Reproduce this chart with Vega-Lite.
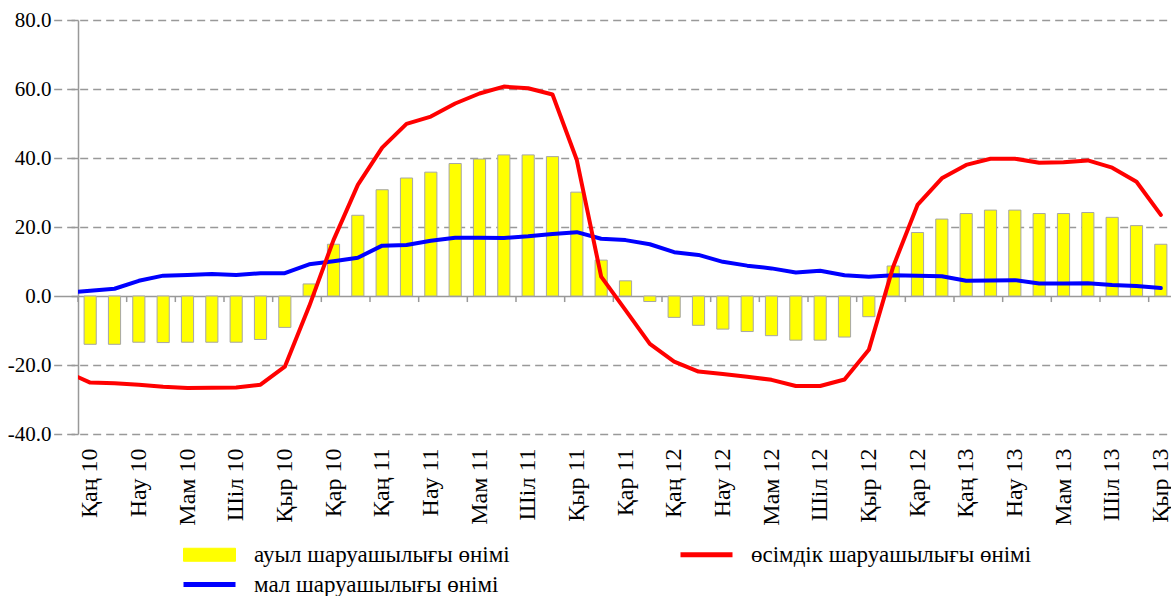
{
  "$schema": "https://vega.github.io/schema/vega-lite/v6.json",
  "autosize": "none",
  "width": 1095,
  "height": 414,
  "padding": {"left": 78, "top": 20, "right": 0, "bottom": 162},
  "background": "white",
  "config": {"view": {"stroke": null}},
  "data": {"values": [
    {"m": "Жел 09", "a": null, "o": -21.9, "l": 1.0},
    {"m": "Қаң 10", "a": -14.0, "o": -25.1, "l": 1.5},
    {"m": "Ақп 10", "a": -14.0, "o": -25.3, "l": 2.1},
    {"m": "Нау 10", "a": -13.4, "o": -25.7, "l": 4.4},
    {"m": "Сәу 10", "a": -13.5, "o": -26.3, "l": 5.9},
    {"m": "Мам 10", "a": -13.4, "o": -26.7, "l": 6.1},
    {"m": "Мау 10", "a": -13.4, "o": -26.6, "l": 6.4},
    {"m": "Шіл 10", "a": -13.4, "o": -26.5, "l": 6.1},
    {"m": "Там 10", "a": -12.6, "o": -25.7, "l": 6.6},
    {"m": "Қыр 10", "a": -9.1, "o": -20.5, "l": 6.6},
    {"m": "Қаз 10", "a": 3.5, "o": -3.0, "l": 9.2},
    {"m": "Қар 10", "a": 15.0, "o": 16.2, "l": 10.1},
    {"m": "Жел 10", "a": 23.4, "o": 32.2, "l": 11.1},
    {"m": "Қаң 11", "a": 30.8, "o": 43.0, "l": 14.6},
    {"m": "Ақп 11", "a": 34.2, "o": 49.9, "l": 14.8},
    {"m": "Нау 11", "a": 35.9, "o": 52.0, "l": 16.0},
    {"m": "Сәу 11", "a": 38.4, "o": 55.8, "l": 16.9},
    {"m": "Мам 11", "a": 39.7, "o": 58.7, "l": 16.9},
    {"m": "Мау 11", "a": 40.9, "o": 60.7, "l": 16.8},
    {"m": "Шіл 11", "a": 40.9, "o": 60.2, "l": 17.3},
    {"m": "Там 11", "a": 40.4, "o": 58.4, "l": 18.0},
    {"m": "Қыр 11", "a": 30.1, "o": 39.4, "l": 18.5},
    {"m": "Қаз 11", "a": 10.4, "o": 5.6, "l": 16.6},
    {"m": "Қар 11", "a": 4.4, "o": -4.1, "l": 16.2},
    {"m": "Жел 11", "a": -1.6, "o": -13.9, "l": 15.0},
    {"m": "Қаң 12", "a": -6.2, "o": -19.0, "l": 12.7},
    {"m": "Ақп 12", "a": -8.5, "o": -21.9, "l": 11.9},
    {"m": "Нау 12", "a": -9.6, "o": -22.6, "l": 9.9},
    {"m": "Сәу 12", "a": -10.3, "o": -23.4, "l": 8.8},
    {"m": "Мам 12", "a": -11.5, "o": -24.3, "l": 8.0},
    {"m": "Мау 12", "a": -12.8, "o": -26.1, "l": 6.8},
    {"m": "Шіл 12", "a": -12.8, "o": -26.1, "l": 7.3},
    {"m": "Там 12", "a": -11.9, "o": -24.2, "l": 6.0},
    {"m": "Қыр 12", "a": -6.0, "o": -15.6, "l": 5.6},
    {"m": "Қаз 12", "a": 8.7, "o": 8.5, "l": 6.0},
    {"m": "Қар 12", "a": 18.4, "o": 26.4, "l": 5.9},
    {"m": "Жел 12", "a": 22.3, "o": 34.1, "l": 5.7},
    {"m": "Қаң 13", "a": 23.9, "o": 38.0, "l": 4.4},
    {"m": "Ақп 13", "a": 24.9, "o": 39.8, "l": 4.5},
    {"m": "Нау 13", "a": 24.9, "o": 39.8, "l": 4.6},
    {"m": "Сәу 13", "a": 23.9, "o": 38.6, "l": 3.6},
    {"m": "Мам 13", "a": 23.9, "o": 38.8, "l": 3.6},
    {"m": "Мау 13", "a": 24.2, "o": 39.3, "l": 3.7},
    {"m": "Шіл 13", "a": 22.8, "o": 37.2, "l": 3.2},
    {"m": "Там 13", "a": 20.4, "o": 33.1, "l": 2.9},
    {"m": "Қыр 13", "a": 15.0, "o": 23.5, "l": 2.3}
  ]},
  "encoding": {
    "x": {
      "field": "m", "type": "ordinal", "title": null,
      "scale": {
        "domain": ["Жел 09","Қаң 10","Ақп 10","Нау 10","Сәу 10","Мам 10","Мау 10","Шіл 10","Там 10","Қыр 10","Қаз 10","Қар 10","Жел 10","Қаң 11","Ақп 11","Нау 11","Сәу 11","Мам 11","Мау 11","Шіл 11","Там 11","Қыр 11","Қаз 11","Қар 11","Жел 11","Қаң 12","Ақп 12","Нау 12","Сәу 12","Мам 12","Мау 12","Шіл 12","Там 12","Қыр 12","Қаз 12","Қар 12","Жел 12","Қаң 13","Ақп 13","Нау 13","Сәу 13","Мам 13","Мау 13","Шіл 13","Там 13","Қыр 13"],
        "range": [-24.333, 1095], "paddingInner": 0, "paddingOuter": 0
      },
      "axis": {
        "values": ["Қаң 10","Нау 10","Мам 10","Шіл 10","Қыр 10","Қар 10","Қаң 11","Нау 11","Мам 11","Шіл 11","Қыр 11","Қар 11","Қаң 12","Нау 12","Мам 12","Шіл 12","Қыр 12","Қар 12","Қаң 13","Нау 13","Мам 13","Шіл 13","Қыр 13"],
        "labelAngle": 270, "domain": false, "ticks": false, "grid": false,
        "labelPadding": 14, "labelFont": "Liberation Serif", "labelFontSize": 24, "labelColor": "#000000"
      }
    }
  },
  "layer": [
    {
      "mark": {"type": "bar", "width": {"band": 0.5}, "stroke": "#A6A6A6", "strokeWidth": 1},
      "encoding": {
        "y": {
          "field": "a", "type": "quantitative", "title": null,
          "scale": {"domain": [-40, 80], "nice": false, "zero": false},
          "axis": {
            "values": [-40, -20, 0, 20, 40, 60, 80],
            "labelExpr": "(datum.value < 0 ? '-' : '') + format(abs(datum.value), '.1f')",
            "domainColor": "#999999", "domainWidth": 1.5,
            "tickColor": "#999999", "tickSize": 7, "tickWidth": 1.5,
            "labelPadding": 20, "labelFont": "Liberation Serif", "labelFontSize": 21, "labelColor": "#000000",
            "grid": true, "gridColor": "#999999", "gridWidth": 1.5,
            "gridDash": {"condition": {"test": "datum.value === 0", "value": []}, "value": [8, 5]}
          }
        },
        "color": {
          "datum": "ауыл шаруашылығы өнімі",
          "scale": {"domain": ["ауыл шаруашылығы өнімі", "өсімдік шаруашылығы өнімі", "мал шаруашылығы өнімі"], "range": ["#FFFF00", "#FF0000", "#0000FF"]},
          "legend": {
            "title": null, "orient": "none", "legendX": 105, "legendY": 523,
            "direction": "horizontal", "columns": 2, "columnPadding": 160, "rowPadding": 6,
            "labelFont": "Liberation Serif", "labelFontSize": 23, "labelColor": "#000000", "labelOffset": 33, "labelLimit": 0,
            "symbolSize": 2704, "symbolOffset": 15,
            "symbolType": {"expr": "datum.value === 'ауыл шаруашылығы өнімі' ? 'M-1,-0.25H1V0.25H-1Z' : 'stroke'"},
            "symbolFillColor": {"expr": "datum.value === 'ауыл шаруашылығы өнімі' ? '#FFFF00' : 'transparent'"},
            "symbolStrokeColor": {"expr": "datum.value === 'ауыл шаруашылығы өнімі' ? '#A6A6A6' : (datum.value === 'өсімдік шаруашылығы өнімі' ? '#FF0000' : '#0000FF')"},
            "symbolStrokeWidth": {"expr": "datum.value === 'ауыл шаруашылығы өнімі' ? 1 : 5"},
            "symbolOpacity": 1
          }
        }
      }
    },
    {
      "transform": [{"filter": "indexof(['Қаң','Нау','Мам','Шіл','Қыр','Қар'], slice(datum.m, 0, 3)) >= 0"}],
      "mark": {"type": "rule", "color": "#999999", "strokeWidth": 1.5},
      "encoding": {
        "x": {"field": "m", "type": "ordinal", "bandPosition": 0},
        "y": {"datum": 0},
        "y2": {"datum": -1.75}
      }
    },
    {
      "mark": {"type": "line", "strokeWidth": 4, "clip": true, "strokeCap": "round", "strokeJoin": "round"},
      "encoding": {
        "y": {"field": "l", "type": "quantitative", "title": null},
        "color": {"datum": "мал шаруашылығы өнімі", "scale": {"domain": ["ауыл шаруашылығы өнімі", "өсімдік шаруашылығы өнімі", "мал шаруашылығы өнімі"], "range": ["#FFFF00", "#FF0000", "#0000FF"]}}
      }
    },
    {
      "mark": {"type": "line", "strokeWidth": 4, "clip": true, "strokeCap": "round", "strokeJoin": "round"},
      "encoding": {
        "y": {"field": "o", "type": "quantitative", "title": null},
        "color": {"datum": "өсімдік шаруашылығы өнімі", "scale": {"domain": ["ауыл шаруашылығы өнімі", "өсімдік шаруашылығы өнімі", "мал шаруашылығы өнімі"], "range": ["#FFFF00", "#FF0000", "#0000FF"]}}
      }
    }
  ]
}
